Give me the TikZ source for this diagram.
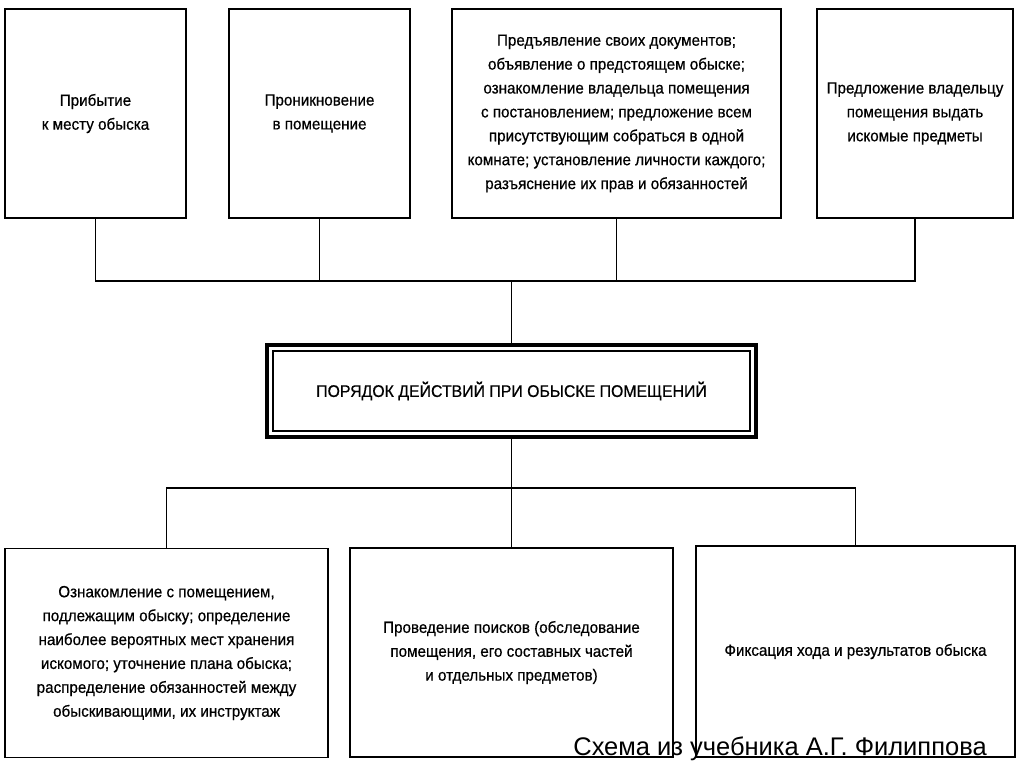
\documentclass[tikz,border=0pt]{standalone}
\usepackage{fontspec}
\setmainfont{Liberation Sans}
\newfontfamily\boxfont{Liberation Sans}[FakeStretch=0.94,FakeBold=0.6]

\usetikzlibrary{positioning}

\def\pix{0.02cm}  % One pixel of the scheme

\tikzset{
  box/.style={draw, line width=1pt, align=center, inner sep=0pt,
    font=\boxfont\fontsize{9.2}{13.6}\selectfont},
  link/.style={line width=0.9pt},
}

\begin{document}
\begin{tikzpicture}[x=\pix, y=-\pix]

      % Definitions
      \def\hT{209}    % Height of the top boxes
      \def\hB{209}    % Height of the bottom boxes

      \useasboundingbox (0,0) rectangle (1024,767);

      % Top row
      \node [box, minimum width=181*\pix, minimum height=\hT*\pix] (arrive) at (95.5,113.5)
        {Прибытие\\к месту обыска};
      \node [box, minimum width=181*\pix, minimum height=\hT*\pix] (enter) at (319.5,113.5)
        {Проникновение\\в помещение};
      \node [box, minimum width=329*\pix, minimum height=\hT*\pix] (present) at (616.5,113.5)
        {Предъявление своих документов;\\объявление о предстоящем обыске;\\ознакомление владельца помещения\\с постановлением; предложение всем\\присутствующим собраться в одной\\комнате; установление личности каждого;\\разъяснение их прав и обязанностей};
      \node [box, minimum width=196*\pix, minimum height=\hT*\pix] (offer) at (915,113.5)
        {Предложение владельцу\\помещения выдать\\искомые предметы};

      % Centre
      \node [draw, line width=2.2pt, minimum width=489*\pix, minimum height=92*\pix,
        font=\boxfont\fontsize{9.6}{12}\selectfont] (order) at (511.5,391)
        {ПОРЯДОК ДЕЙСТВИЙ ПРИ ОБЫСКЕ ПОМЕЩЕНИЙ};
      \draw [line width=0.8pt] ([shift={(8,8)}]order.north west)
        rectangle ([shift={(-8,-8)}]order.south east);

      % Bottom row
      \node [box, minimum width=323*\pix, minimum height=\hB*\pix] (study) at (166.5,653)
        {Ознакомление с помещением,\\подлежащим обыску; определение\\наиболее вероятных мест хранения\\искомого; уточнение плана обыска;\\распределение обязанностей между\\обыскивающими, их инструктаж};
      \node [box, minimum width=323*\pix, minimum height=\hB*\pix] (search) at (511.5,652.5)
        {Проведение поисков (обследование\\помещения, его составных частей\\и отдельных предметов)};
      \node [box, minimum width=319*\pix, minimum height=211*\pix] (record) at (855.5,651.5)
        {Фиксация хода и результатов обыска};

      \coordinate (up) at (511.5,281);
      \coordinate (down) at (511.5,488);

      % Draw commands
      \draw [link] (arrive.south) |- (up);
      \draw [link] (enter.south) |- (up);
      \draw [link] (present.south) |- (up);
      \draw [link] (offer.south) |- (up);
      \draw [link] (up) -- (order.north);
      \draw [link] (order.south) -- (down);
      \draw [link] (down) -| (study.north);
      \draw [link] (down) -- (search.north);
      \draw [link] (down) -| (record.north);

      \node [anchor=base west, inner sep=0pt, font=\fontsize{14.5}{17}\selectfont]
        (source) at (573,755.5) {Схема из учебника А.Г. Филиппова};

\end{tikzpicture}
\end{document}
